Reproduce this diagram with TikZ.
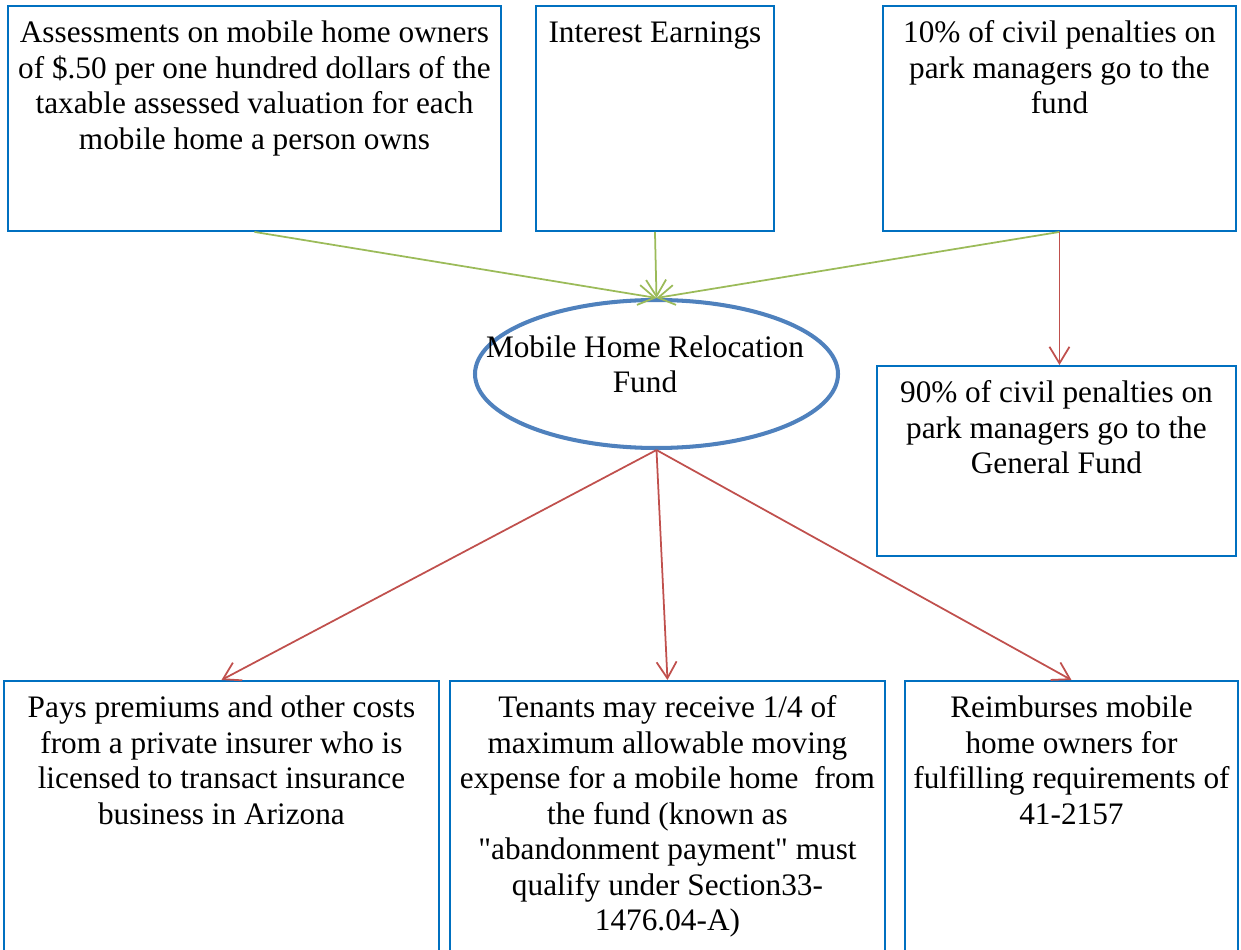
\documentclass[tikz,border=0pt]{standalone}
\usepackage{fontspec}
\setmainfont{Liberation Serif}
\usepackage{xcolor}
\definecolor{boxblue}{RGB}{0,112,192}
\definecolor{fundblue}{RGB}{79,129,189}
\definecolor{ingreen}{RGB}{155,187,89}
\definecolor{outred}{RGB}{192,80,77}
\usepackage{tikz}
\usetikzlibrary{
  arrows.meta,
  shapes.geometric,
  positioning
}
% text set at the top of a fixed-size box
\newcommand{\boxtxt}[3]{\parbox[t][#1][t]{#2}{\centering\rule{0pt}{0.74cm}#3\par}}

\begin{document}
\begin{tikzpicture}[
  info/.style={rectangle, draw=boxblue, line width=1.1pt, inner sep=0pt, anchor=north west, font=\fontsize{17.8}{20.2}\selectfont},
  fund/.style={ellipse, draw=fundblue, line width=2.3pt, minimum width=7.26cm, minimum height=2.96cm, inner sep=0pt},
  fundtxt/.style={font=\fontsize{17.8}{20.2}\selectfont, inner sep=0pt, anchor=north},
  arrin/.style={-{Straight Barb[length=0.33cm, width=0.4cm]}, draw=ingreen, line width=1pt},
  arrout/.style={-{Straight Barb[length=0.33cm, width=0.4cm]}, draw=outred, line width=1pt}
]
  \clip (0,0) rectangle (24.82,-19);

  \node[info] (assess) at (0.14,-0.10) {\boxtxt{4.5cm}{9.86cm}{Assessments on mobile home owners\\of \$.50 per one hundred dollars of the\\taxable assessed valuation for each\\mobile home a person owns}};
  \node[info] (interest) at (10.70,-0.10) {\boxtxt{4.5cm}{4.76cm}{Interest Earnings}};
  \node[info] (tenpct) at (17.64,-0.10) {\boxtxt{4.5cm}{7.06cm}{10\% of civil penalties on\\park managers go to the\\fund}};

  \node[fund] (fund) at (13.13,-7.48) {};
  \node[fundtxt] (fundlbl) at (12.90,-6.64) {\parbox[t]{7cm}{\centering\rule{0pt}{0.5cm}Mobile Home Relocation\\Fund}};

  \node[info] (ninetypct) at (17.52,-7.30) {\boxtxt{3.8cm}{7.18cm}{90\% of civil penalties on\\park managers go to the\\General Fund}};

  \node[info] (premiums) at (0.06,-13.60) {\boxtxt{5.6cm}{8.70cm}{Pays premiums and other costs\\from a private insurer who is\\licensed to transact insurance\\business in Arizona}};
  \node[info] (tenants) at (8.98,-13.60) {\boxtxt{5.6cm}{8.70cm}{Tenants may receive 1/4 of\\maximum allowable moving\\expense for a mobile home\ \ from\\the fund (known as\\\textquotedbl abandonment payment\textquotedbl\ must\\qualify under Section33-\\1476.04-A)}};
  \node[info] (reimb) at (18.08,-13.60) {\boxtxt{5.6cm}{6.66cm}{Reimburses mobile\\home owners for\\fulfilling requirements of\\41-2157}};

  \draw[arrin] (assess.south) -- (fund.north);
  \draw[arrin] (interest.south) -- (fund.north);
  \draw[arrin] (tenpct.south) -- (fund.north);

  \draw[arrout] (tenpct.south) -- (tenpct.south |- ninetypct.north);
  \draw[arrout] (fund.south) -- (premiums.north);
  \draw[arrout] (fund.south) -- (tenants.north);
  \draw[arrout] (fund.south) -- (reimb.north);
\end{tikzpicture}
\end{document}
